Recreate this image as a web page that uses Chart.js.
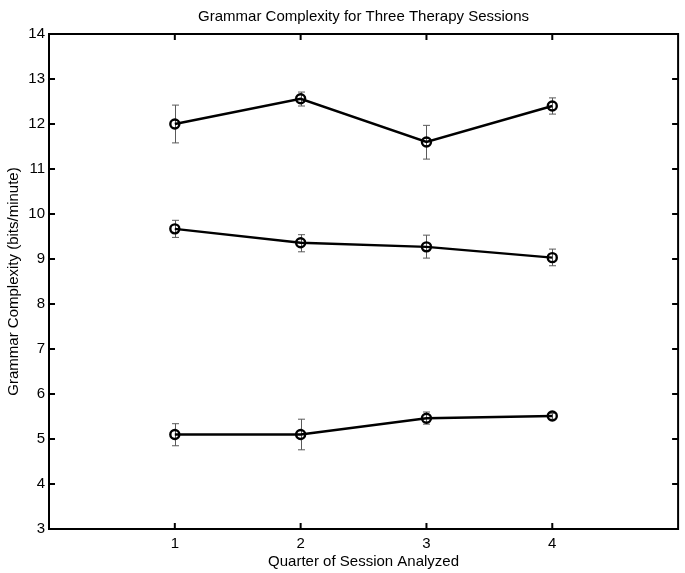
<!DOCTYPE html>
<html>
<head>
<meta charset="utf-8">
<script src="https://cdn.jsdelivr.net/npm/chart.js@4/dist/chart.umd.min.js"></script>
<style>
  html, body { margin: 0; padding: 0; background: #fff; }
  #wrap { width: 685px; height: 573px; }
</style>
</head>
<body>
<div id="wrap"><canvas id="c" width="685" height="573"></canvas></div>
<script>
// ---- data ----
const quarters = [1, 2, 3, 4];
const xTickLabels = ['1', '2', '3', '4'];
const yTickValues = [3, 4, 5, 6, 7, 8, 9, 10, 11, 12, 13, 14];

const sessionHighMean = [12.00, 12.56, 11.60, 12.40];
const sessionHighLow  = [11.58, 12.40, 11.22, 12.22];
const sessionHighHigh = [12.42, 12.71, 11.97, 12.58];

const sessionMidMean = [9.67, 9.36, 9.27, 9.03];
const sessionMidLow  = [9.48, 9.16, 9.02, 8.85];
const sessionMidHigh = [9.86, 9.54, 9.53, 9.22];

const sessionLowMean = [5.10, 5.10, 5.46, 5.51];
const sessionLowLow  = [4.85, 4.76, 5.33, 5.44];
const sessionLowHigh = [5.34, 5.44, 5.60, 5.57];

const seriesNames = ['Session 1', 'Session 2', 'Session 3'];

// ---- build datasets ----
function pts(means, lows, highs) {
  return quarters.map((q, i) => ({ x: q, y: means[i], lo: lows[i], hi: highs[i] }));
}
const FONT = { family: "'Liberation Sans', Arial, Helvetica, sans-serif", size: 15 };

function ds(label, data) {
  return {
    label, data,
    borderColor: '#000', borderWidth: 2.4,
    pointRadius: 4.5, pointBorderWidth: 2.4,
    pointBackgroundColor: 'rgba(0,0,0,0)', pointBorderColor: '#000',
    pointStyle: 'circle', showLine: true, tension: 0, fill: false
  };
}

const errorBars = {
  id: 'errorBars',
  beforeDatasetsDraw(chart) {
    const { ctx, scales: { x, y } } = chart;
    ctx.save();
    ctx.strokeStyle = '#5a5a5a';
    ctx.lineWidth = 1;
    chart.data.datasets.forEach(d => {
      d.data.forEach(p => {
        const px = Math.round(x.getPixelForValue(p.x)) + 0.5;
        const yl = y.getPixelForValue(p.lo);
        const yh = y.getPixelForValue(p.hi);
        ctx.beginPath();
        ctx.moveTo(px, yl); ctx.lineTo(px, yh);
        ctx.moveTo(px - 3.5, yl); ctx.lineTo(px + 3.5, yl);
        ctx.moveTo(px - 3.5, yh); ctx.lineTo(px + 3.5, yh);
        ctx.stroke();
      });
    });
    ctx.restore();
  }
};

const frame = {
  id: 'frame',
  afterDatasetsDraw(chart) {
    const { ctx, chartArea: a, scales: { x, y } } = chart;
    ctx.save();
    ctx.strokeStyle = '#000';
    ctx.lineWidth = 2;
    ctx.strokeRect(a.left, a.top, a.right - a.left, a.bottom - a.top);
    const tl = 6;
    ctx.beginPath();
    yTickValues.forEach(v => {
      const py = y.getPixelForValue(v);
      ctx.moveTo(a.left, py); ctx.lineTo(a.left + tl, py);
      ctx.moveTo(a.right, py); ctx.lineTo(a.right - tl, py);
    });
    quarters.forEach(v => {
      const px = x.getPixelForValue(v);
      ctx.moveTo(px, a.bottom); ctx.lineTo(px, a.bottom - tl);
      ctx.moveTo(px, a.top); ctx.lineTo(px, a.top + tl);
    });
    ctx.stroke();
    ctx.restore();
  }
};

new Chart(document.getElementById('c'), {
  type: 'scatter',
  data: {
    datasets: [
      ds(seriesNames[0], pts(sessionHighMean, sessionHighLow, sessionHighHigh)),
      ds(seriesNames[1], pts(sessionMidMean, sessionMidLow, sessionMidHigh)),
      ds(seriesNames[2], pts(sessionLowMean, sessionLowLow, sessionLowHigh))
    ]
  },
  options: {
    responsive: false,
    animation: false,
    devicePixelRatio: 1,
    layout: { padding: { left: 0, right: 6, top: 0, bottom: 0 } },
    plugins: {
      legend: { display: false },
      tooltip: { enabled: false },
      title: {
        display: true,
        fullSize: false,
        text: 'Grammar Complexity for Three Therapy Sessions',
        color: '#000',
        font: { ...FONT, weight: 'normal' },
        padding: { top: 8, bottom: 8 }
      }
    },
    scales: {
      x: {
        type: 'linear', min: 0, max: 5,
        grid: { display: false, drawTicks: false },
        border: { display: false },
        ticks: {
          stepSize: 1, padding: 6, color: '#000', font: FONT,
          maxRotation: 0,
          callback: v => (v >= 1 && v <= 4) ? xTickLabels[v - 1] : ''
        },
        title: {
          display: true, text: 'Quarter of Session Analyzed', color: '#000',
          font: FONT, padding: { top: 0, bottom: 2 }
        },
        afterFit: s => { s.height = 44; }
      },
      y: {
        type: 'linear', min: 3, max: 14,
        grid: { display: false, drawTicks: false },
        border: { display: false },
        ticks: { stepSize: 1, padding: 4, color: '#000', font: FONT },
        title: {
          display: true, text: 'Grammar Complexity (bits/minute)', color: '#000',
          font: FONT, padding: { top: 5, bottom: 0 }
        },
        afterFit: s => { s.width = 49; }
      }
    }
  },
  plugins: [errorBars, frame]
});
</script>
</body>
</html>
